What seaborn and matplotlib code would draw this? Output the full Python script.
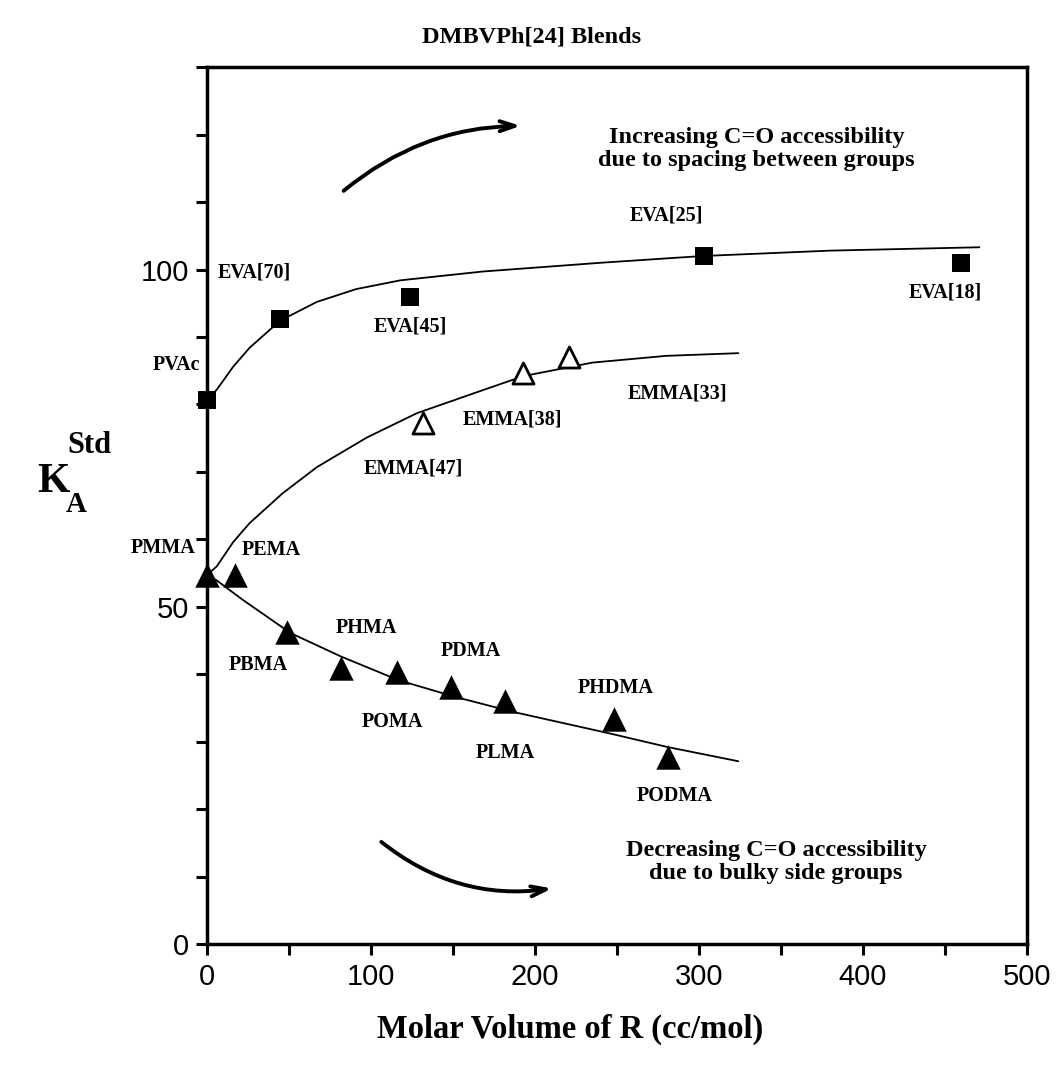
import matplotlib
matplotlib.use("Agg")
import matplotlib.pyplot as plt
import seaborn as sns

# ---- data ----
eva_x = [0, 44.5, 124, 303, 460]
eva_y = [80.6, 92.7, 95.9, 102.0, 100.9]

emma_x = [132, 193, 221]
emma_y = [77.3, 84.6, 87.0]

pma_x = [0, 17, 49, 82, 116, 149, 181.5, 248, 281]
pma_y = [54.7, 54.7, 46.3, 40.9, 40.3, 38.1, 36.1, 33.3, 27.8]

eva_curve_x = [0, 6, 16, 26, 44.5, 67, 91, 118, 168, 240, 302, 380, 471]
eva_curve_y = [80.6, 82.2, 85.6, 88.4, 92.4, 95.2, 97.1, 98.4, 99.7, 101.0, 102.0, 102.8, 103.3]

emma_curve_x = [0, 6, 16, 26, 46, 67, 97.5, 128, 168, 193, 235, 280, 324]
emma_curve_y = [54.7, 56.0, 59.6, 62.4, 66.8, 70.7, 75.1, 78.7, 82.1, 84.2, 86.2, 87.2, 87.6]

pma_curve_x = [0, 6, 22, 51, 82, 117, 152, 187, 246, 281, 324]
pma_curve_y = [54.7, 53.9, 51.0, 46.1, 42.6, 39.1, 36.6, 34.4, 31.2, 29.2, 27.1]

point_labels = ["PVAc", "EVA[70]", "EVA[45]", "EVA[25]", "EVA[18]",
                "EMMA[47]", "EMMA[38]", "EMMA[33]",
                "PMMA", "PEMA", "PBMA", "PHMA", "POMA", "PDMA", "PLMA",
                "PHDMA", "PODMA"]
label_x = [-4, 29, 124, 280, 450,
           126, 186, 287,
           -7, 39, 31, 97, 113, 161, 182, 249, 285]
label_y = [85.8, 99.6, 91.6, 108, 96.6,
           70.5, 77.8, 81.6,
           58.7, 58.4, 41.3, 46.8, 32.9, 43.4, 28.3, 38.0, 21.9]

x_ticks = [0, 100, 200, 300, 400, 500]
y_ticks = [0, 50, 100]

# ---- style ----
sns.set_theme(style="ticks")
plt.rcParams["font.family"] = ["Liberation Serif", "DejaVu Serif"]

fig = plt.figure(figsize=(10.56, 10.66), dpi=100)
ax = fig.add_axes([0.196, 0.1144, 0.7765, 0.8226])

serif_bold = dict(family=["Liberation Serif", "DejaVu Serif"], fontweight="bold", color="black")

# curves
for cx, cy in [(eva_curve_x, eva_curve_y), (emma_curve_x, emma_curve_y), (pma_curve_x, pma_curve_y)]:
    sns.lineplot(x=cx, y=cy, ax=ax, color="black", linewidth=1.3, sort=False, estimator=None)

# markers
sns.scatterplot(x=eva_x, y=eva_y, ax=ax, marker="s", s=180, color="black",
                edgecolor="black", linewidth=0, zorder=5, clip_on=False)
sns.scatterplot(x=emma_x, y=emma_y, ax=ax, marker="^", s=230, facecolor="white",
                edgecolor="black", linewidth=2.0, zorder=5)
sns.scatterplot(x=pma_x, y=pma_y, ax=ax, marker="^", s=310, color="black",
                edgecolor="black", linewidth=0, zorder=5, clip_on=False)

# point labels
for lab, lx, ly in zip(point_labels, label_x, label_y):
    ha = "right" if lx < 0 else "center"
    ax.text(lx, ly, lab, ha=ha, va="center", fontsize=14.5, **serif_bold)

# annotation texts
ax.text(335, 117.8, "Increasing C=O accessibility\ndue to spacing between groups",
        ha="center", va="center", fontsize=17.5, linespacing=1.12, **serif_bold)
ax.text(347, 12.1, "Decreasing C=O accessibility\ndue to bulky side groups",
        ha="center", va="center", fontsize=17.5, linespacing=1.12, **serif_bold)

# curved arrows
ax.annotate("", xy=(193, 121.3), xytext=(82, 111.4),
            arrowprops=dict(arrowstyle="->,head_length=0.9,head_width=0.3", color="black",
                            lw=2.8, connectionstyle="arc3,rad=-0.18"))
ax.annotate("", xy=(212, 8.3), xytext=(105, 15.4),
            arrowprops=dict(arrowstyle="->,head_length=0.9,head_width=0.3", color="black",
                            lw=2.8, connectionstyle="arc3,rad=0.22"))

# axes
ax.set_xlim(0, 500)
ax.set_ylim(0, 130)
ax.set_xticks(list(range(0, 501, 50)))
ax.set_xticklabels([str(v) if v in x_ticks else "" for v in range(0, 501, 50)])
ax.set_yticks(list(range(0, 131, 10)))
ax.set_yticklabels([str(v) if v in y_ticks else "" for v in range(0, 131, 10)])
ax.tick_params(axis="both", direction="out", length=8, width=2.2, color="black",
               labelcolor="black", labelsize=21)
ax.tick_params(axis="x", pad=6)
ax.tick_params(axis="y", pad=5)
for lab in ax.get_xticklabels() + ax.get_yticklabels():
    lab.set_family(["Liberation Sans", "DejaVu Sans"])
for sp in ax.spines.values():
    sp.set_visible(True)
    sp.set_color("black")
    sp.set_linewidth(2.5)
ax.set_facecolor("white")
ax.grid(False)

ax.set_xlabel("")
ax.set_ylabel("")
fig.text(0.54, 0.034, "Molar Volume of R (cc/mol)", fontsize=23.5, ha="center", va="center", **serif_bold)
fig.text(0.503, 0.965, "DMBVPh[24] Blends", fontsize=17.5, ha="center", va="center", **serif_bold)

# y label K_A^Std
fig.text(0.035, 0.548, "K", fontsize=30, ha="left", va="center", **serif_bold)
fig.text(0.064, 0.582, "Std", fontsize=22, ha="left", va="center", **serif_bold)
fig.text(0.062, 0.527, "A", fontsize=21, ha="left", va="center", **serif_bold)

fig.savefig("out.png", dpi=100, facecolor="white")
